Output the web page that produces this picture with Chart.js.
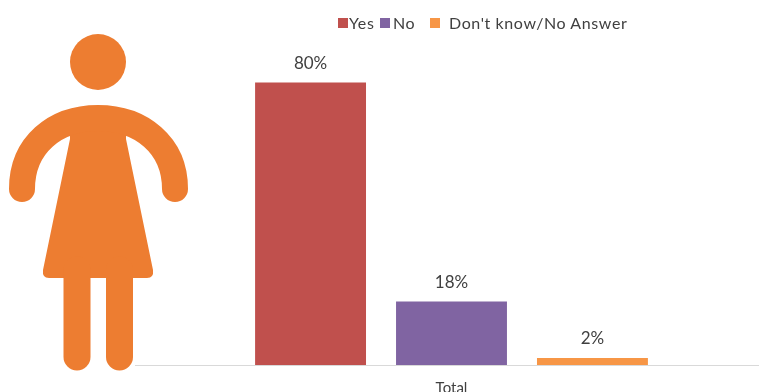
<!DOCTYPE html>
<html>
<head>
<meta charset="utf-8">
<style>
  html, body { margin: 0; background: #fff; overflow: hidden; }
  #wrap { position: relative; width: 759px; height: 392px; overflow: hidden; }
  #chart { position: absolute; left: 0; top: 0; }
  #figure { position: absolute; left: 0; top: 0; }
  .key { position: absolute; top: 14px; font: 16px Lato, sans-serif; letter-spacing: 0.6px; color: #404040; line-height: 18px; white-space: nowrap; }
  .box { position: absolute; top: 18px; width: 10px; height: 10px; }
</style>
</head>
<body>
<div id="wrap">
  <canvas id="chart" width="768" height="392"></canvas>
  <svg id="figure" width="200" height="392">
    <g fill="#ED7D31" stroke="none">
      <circle cx="98" cy="62" r="28"/>
      <path d="M70 115 L126 115 L126 139 L153 270 Q154 278 147 278 L49 278 Q42 278 43 270 L70 139 Z"/>
    </g>
    <g fill="none" stroke="#ED7D31" stroke-linecap="round">
      <path stroke-width="26" d="M22 189 C22 145 55 118 98 118 C141 118 175 145 175 189"/>
      <path stroke-width="27" d="M77 270 L77 357 M119.500 270 L119.500 357"/>
    </g>
  </svg>
  <div id="legend"></div>
</div>

<script src="https://cdn.jsdelivr.net/npm/chart.js@4"></script>
<script>
const categories = ["Total"];
const seriesNames = ["Yes", "No", "Don't know/No Answer"];
const yesValues = [80];
const noValues = [18];
const unsureValues = [2];
const seriesColors = ["#C0504D", "#8064A2", "#F79646"];

// legend entries sit at uneven gaps, so they are placed by hand
const legendBoxX = [338, 380, 430];
const legendTextX = [349, 393, 449];

const legend = document.getElementById("legend");
seriesNames.forEach((name, i) => {
  const box = document.createElement("div");
  box.className = "box";
  box.style.left = legendBoxX[i] + "px";
  box.style.background = seriesColors[i];
  legend.appendChild(box);

  const key = document.createElement("div");
  key.className = "key";
  key.style.left = legendTextX[i] + "px";
  key.innerText = name;
  legend.appendChild(key);
});

// ---------- VALUE LABELS ----------
const valueLabels = {
  id: "valueLabels",
  afterDatasetsDraw(chart) {
    const ctx = chart.ctx;
    ctx.save();
    ctx.font = "17px Lato, sans-serif";
    ctx.fillStyle = "#404040";
    ctx.textAlign = "center";
    ctx.textBaseline = "middle";
    chart.data.datasets.forEach((ds, i) => {
      const bar = chart.getDatasetMeta(i).data[0];
      ctx.fillText(ds.data[0] + "%", bar.x, bar.y - 19);
    });
    ctx.restore();
  }
};

// ---------- CHART ----------
new Chart(document.getElementById("chart").getContext("2d"), {
  type: "bar",
  plugins: [valueLabels],
  data: {
    labels: categories,
    datasets: [yesValues, noValues, unsureValues].map((values, i) => ({
      label: seriesNames[i],
      data: values,
      backgroundColor: seriesColors[i],
      borderWidth: 0,
      categoryPercentage: 0.668,
      barPercentage: 0.787
    }))
  },
  options: {
    responsive: false,
    animation: false,
    layout: { padding: { left: 135, right: 0, top: 12, bottom: 0 } },
    plugins: { legend: { display: false }, tooltip: { enabled: false } },
    scales: {
      x: {
        grid: { display: false },
        border: { color: "#D9D9D9", width: 1 },
        ticks: { color: "#404040", font: { family: "Lato, sans-serif", size: 15 }, padding: 6 },
        afterFit(scale) { scale.height = 27; }
      },
      y: { display: false, min: 0, max: 100 }
    }
  }
});
</script>
</body>
</html>
